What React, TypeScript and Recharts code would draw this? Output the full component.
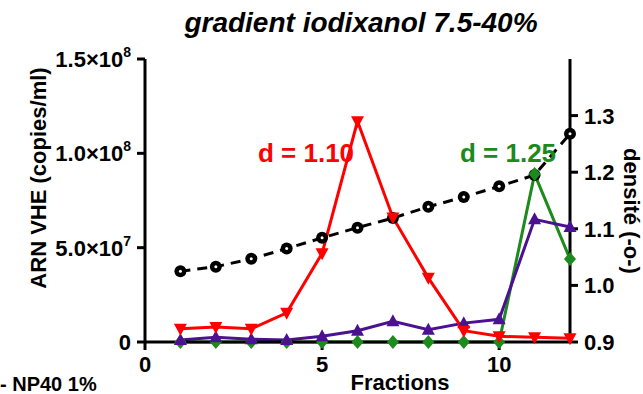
import React from 'react';
import { ComposedChart, Line, XAxis, YAxis } from 'recharts';

const fractions = [1, 2, 3, 4, 5, 6, 7, 8, 9, 10, 11, 12];
const density = [1.025, 1.033, 1.047, 1.065, 1.084, 1.102, 1.119, 1.139, 1.156, 1.175, 1.195, 1.268];
const rnaRed = [7e6, 8e6, 7e6, 1.55e7, 4.7e7, 1.17e8, 6.6e7, 3.4e7, 6e6, 3e6, 2.5e6, 2e6];
const rnaPurple = [1e6, 2.5e6, 1.5e6, 1e6, 3e6, 6e6, 1.1e7, 6.5e6, 1e7, 1.2e7, 6.5e7, 6.1e7];
const rnaGreen = [0, 0, 0, 0, 0, 0, 0, 0, 0, 0, 8.9e7, 4.4e7];

const xTicks = [0, 5, 10];
const leftTicks = [0, 5e7, 1e8, 1.5e8];
const rightTicks = [0.9, 1.0, 1.1, 1.2, 1.3];

const RED = '#ff0000';
const PURPLE = '#4b1190';
const GREEN = '#1c8a1c';
const FONT = '"Liberation Sans", Arial, sans-serif';

const data = fractions.map((f, i) => ({
    fraction: f,
    density: density[i],
    red: rnaRed[i],
    purple: rnaPurple[i],
    green: rnaGreen[i],
}));

const sciLabel = (v: number) => {
    if (v === 0) return { mant: '0', exp: '' };
    const exp = Math.floor(Math.log10(v));
    const mant = (v / Math.pow(10, exp)).toFixed(1);
    return { mant: `${mant}×10`, exp: String(exp) };
};

const LeftTick = ({ x, y, payload }: any) => {
    const { mant, exp } = sciLabel(payload.value);
    return (
        <text x={x - 4} y={y + 8} textAnchor="end" fontFamily={FONT} fontWeight="bold" fontSize={22} fill="#000">
            {mant}
            {exp && <tspan dy={-10} fontSize={14}>{exp}</tspan>}
        </text>
    );
};

const RightTick = ({ x, y, payload }: any) => (
    <text x={x + 4} y={y + 8} textAnchor="start" fontFamily={FONT} fontWeight="bold" fontSize={22} fill="#000">
        {payload.value.toFixed(1)}
    </text>
);

const BottomTick = ({ x, y, payload }: any) => (
    <text x={x} y={y + 20} textAnchor="middle" fontFamily={FONT} fontWeight="bold" fontSize={22} fill="#000">
        {payload.value}
    </text>
);

const CircleDot = ({ cx, cy }: any) => (
    <g>
        <circle cx={cx} cy={cy} r={6} fill="#000" />
        <circle cx={cx} cy={cy} r={1.5} fill="#fff" />
    </g>
);

const DownTri = ({ cx, cy }: any) => (
    <polygon points={`${cx - 6.5},${cy - 5} ${cx + 6.5},${cy - 5} ${cx},${cy + 7}`} fill={RED} />
);

const UpTri = ({ cx, cy }: any) => (
    <polygon points={`${cx - 6.5},${cy + 5} ${cx + 6.5},${cy + 5} ${cx},${cy - 7}`} fill={PURPLE} />
);

const Diamond = ({ cx, cy }: any) => (
    <polygon points={`${cx},${cy - 7} ${cx + 6},${cy} ${cx},${cy + 7} ${cx - 6},${cy}`} fill={GREEN} />
);

const axisLine = { stroke: '#000', strokeWidth: 3 };
const tickLine = { stroke: '#000', strokeWidth: 3 };

export default function App() {
    return (
        <div style={{ position: 'absolute', left: 0, top: 0, width: 643, height: 394, background: '#fff' }}>
            <ComposedChart width={643} height={394} data={data} margin={{ top: 59, right: 0, bottom: 0, left: 0 }}>
                <XAxis
                    dataKey="fraction"
                    type="number"
                    domain={[0, 12]}
                    ticks={xTicks}
                    axisLine={axisLine}
                    tickLine={tickLine}
                    tickSize={8}
                    tick={<BottomTick />}
                    height={52}
                />
                <YAxis
                    yAxisId="left"
                    domain={[0, 1.5e8]}
                    ticks={leftTicks}
                    width={145}
                    axisLine={axisLine}
                    tickLine={tickLine}
                    tickSize={8}
                    tick={<LeftTick />}
                />
                <YAxis
                    yAxisId="right"
                    orientation="right"
                    domain={[0.9, 1.4]}
                    ticks={rightTicks}
                    width={73}
                    axisLine={axisLine}
                    tickLine={tickLine}
                    tickSize={8}
                    tick={<RightTick />}
                />
                <Line
                    yAxisId="right"
                    dataKey="density"
                    stroke="#000"
                    strokeWidth={3}
                    strokeDasharray="10 7"
                    dot={<CircleDot />}
                    isAnimationActive={false}
                />
                <Line yAxisId="left" dataKey="green" stroke={GREEN} strokeWidth={3} dot={<Diamond />} isAnimationActive={false} />
                <Line yAxisId="left" dataKey="purple" stroke={PURPLE} strokeWidth={3} dot={<UpTri />} isAnimationActive={false} />
                <Line yAxisId="left" dataKey="red" stroke={RED} strokeWidth={3} dot={<DownTri />} isAnimationActive={false} />
            </ComposedChart>
            <svg width={643} height={394} style={{ position: 'absolute', left: 0, top: 0, pointerEvents: 'none' }}>
                <g fontFamily={FONT} fontWeight="bold">
                    <text x={361} y={32} textAnchor="middle" fontSize={28} fontStyle="italic" fill="#000">
                        gradient iodixanol 7.5-40%
                    </text>
                    <text x={306} y={162} textAnchor="middle" fontSize={26} fill={RED}>d = 1.10</text>
                    <text x={508} y={162} textAnchor="middle" fontSize={26} fill={GREEN}>d = 1.25</text>
                    <text transform="translate(46,178) rotate(-90)" textAnchor="middle" fontSize={22} fill="#000">
                        ARN VHE (copies/ml)
                    </text>
                    <text transform="translate(624,211) rotate(90)" textAnchor="middle" fontSize={22} fill="#000">
                        densité (-o-)
                    </text>
                    <text x={400} y={390} textAnchor="middle" fontSize={22} fill="#000">Fractions</text>
                    <text x={0} y={391} fontSize={20} fill="#000">- NP40 1%</text>
                </g>
            </svg>
        </div>
    );
}
